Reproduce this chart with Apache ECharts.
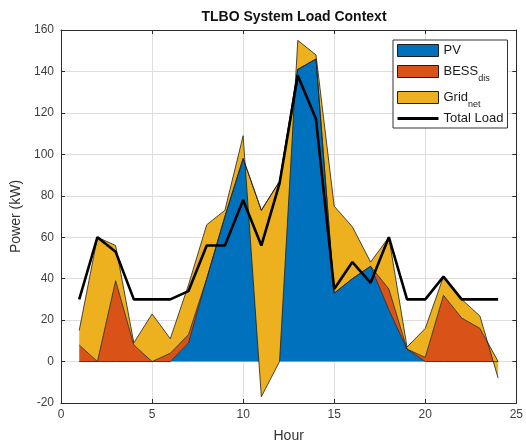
<!DOCTYPE html>
<html>
<head>
<meta charset="utf-8">
<title>TLBO System Load Context</title>
<script src="https://cdn.jsdelivr.net/npm/echarts@6/dist/echarts.min.js"></script>
<style>
  html, body { margin: 0; padding: 0; background: #fff; }
  #chart { width: 526px; height: 448px; }
</style>
</head>
<body>
<div id="chart"></div>
<script>
// Hourly power balance (kW), hours 1..24
const hours = [1, 2, 3, 4, 5, 6, 7, 8, 9, 10, 11, 12, 13, 14, 15, 16, 17, 18, 19, 20, 21, 22, 23, 24];
const pv        = [0, 0, 0, 0, 0, 0, 9, 40, 70, 98, 73, 87, 141, 146, 33, 40, 46, 25, 6, 0, 0, 0, 0, 0];
const bessDis   = [8, 0, 39, 8, 0, 4, 4, 0, 0, 0, 0, 0, 0, 0, 0, 0, 0, 10, 0, 2, 32, 21, 16, 0];
const gridNet   = [7, 60, 17, 1, 23, 7, 24, 26, 3, 11, -90, -87, 14, 2, 42, 25, 2, 25, 1, 14, 9, 9, 6, -8];
const totalLoad = [30, 60, 53, 30, 30, 30, 34, 56, 56, 78, 56, 86, 138, 117, 35, 48, 38, 60, 30, 30, 41, 30, 30, 30];

// Hour axis runs 0..25 with a label every 5 hours
const xMin = 0, xMax = 25, xStep = 5;
const yTicks = { min: -20, max: 160, step: 20 };

const colors = { pv: '#0072BD', bess: '#D95319', grid: '#EDB120', load: '#000000' };

// category slots 0..25; hours without data stay empty
const hourSlots = [];
for (let h = xMin; h <= xMax; h++) hourSlots.push(String(h));
const onSlots = vals => hourSlots.map(s => {
  const i = hours.indexOf(Number(s));
  return i < 0 ? null : vals[i];
});

const chart = echarts.init(document.getElementById('chart'), null, { renderer: 'canvas' });

const font = 'Liberation Sans, Arial, sans-serif';
const edge = { color: '#1e1e1e', width: 0.8 };
const axisColor = '#2b2b2b';
const labelStyle = { color: '#404040', fontSize: 12, fontFamily: font };

function areaSeries(name, vals, color) {
  return {
    name: name,
    type: 'line',
    stack: 'supply',
    stackStrategy: 'all',
    data: onSlots(vals),
    symbol: 'none',
    showSymbol: false,
    color: color,
    itemStyle: { color: color },
    lineStyle: edge,
    areaStyle: { color: color, opacity: 1 },
    z: 2
  };
}

const legendNames = {
  'PV': '{m|PV}',
  'BESS_dis': '{m|BESS}{s|dis}',
  'Grid_net': '{m|Grid}{s|net}',
  'Total Load': '{m|Total Load}'
};

const tickEvery = (xStep - 1);

chart.setOption({
  animation: false,
  backgroundColor: '#ffffff',
  title: {
    text: 'TLBO System Load Context',
    left: 289,
    top: 5,
    textAlign: 'center',
    textStyle: { fontSize: 14, fontWeight: 'bold', color: '#111', fontFamily: font }
  },
  legend: {
    orient: 'vertical',
    left: 393,
    top: 40,
    padding: [4, 4, 3, 4],
    itemGap: 3,
    itemWidth: 41,
    itemHeight: 12,
    backgroundColor: '#ffffff',
    borderColor: '#333333',
    borderWidth: 1,
    borderRadius: 0,
    selectedMode: false,
    data: [
      { name: 'PV', icon: 'rect', itemStyle: { borderColor: '#1e1e1e', borderWidth: 1 } },
      { name: 'BESS_dis', icon: 'rect', itemStyle: { borderColor: '#1e1e1e', borderWidth: 1 } },
      { name: 'Grid_net', icon: 'rect', itemStyle: { borderColor: '#1e1e1e', borderWidth: 1 } },
      { name: 'Total Load', icon: 'path://M0,0 H40 V3 H0 Z', itemStyle: { borderWidth: 0 } }
    ],
    formatter: name => legendNames[name],
    textStyle: {
      color: '#1a1a1a',
      fontFamily: font,
      rich: {
        m: { fontSize: 13, lineHeight: 14, color: '#1a1a1a', fontFamily: font },
        s: { fontSize: 9, lineHeight: 9, padding: [14, 0, 0, 0], color: '#1a1a1a', fontFamily: font }
      }
    }
  },
  grid: { left: 61, right: 9, top: 30, bottom: 45, containLabel: false },
  xAxis: [
    {
      type: 'category',
      data: hourSlots,
      boundaryGap: false,
      name: 'Hour',
      nameLocation: 'middle',
      nameGap: 26,
      nameTextStyle: { fontSize: 14, color: '#333', fontFamily: font },
      axisLine: { show: true, onZero: false, lineStyle: { color: axisColor, width: 1 } },
      axisTick: { show: true, inside: true, length: 4, interval: tickEvery, lineStyle: { color: axisColor } },
      axisLabel: Object.assign({ margin: 6, interval: tickEvery }, labelStyle),
      splitLine: { show: true, interval: tickEvery, lineStyle: { color: '#dedede', width: 1 } }
    },
    {
      type: 'category',
      data: hourSlots,
      boundaryGap: false,
      position: 'top',
      axisLine: { show: true, onZero: false, lineStyle: { color: axisColor, width: 1 } },
      axisTick: { show: true, inside: true, length: 4, interval: tickEvery, lineStyle: { color: axisColor } },
      axisLabel: { show: false },
      splitLine: { show: false }
    }
  ],
  yAxis: [
    {
      type: 'value',
      min: yTicks.min, max: yTicks.max, interval: yTicks.step,
      name: 'Power (kW)',
      nameLocation: 'middle',
      nameGap: 35,
      nameTextStyle: { fontSize: 14, color: '#333', fontFamily: font },
      axisLine: { show: true, onZero: false, lineStyle: { color: axisColor, width: 1 } },
      axisTick: { show: true, inside: true, length: 4, lineStyle: { color: axisColor } },
      axisLabel: Object.assign({ margin: 7 }, labelStyle),
      splitLine: { show: true, lineStyle: { color: '#dedede', width: 1 } }
    },
    {
      type: 'value', position: 'right',
      min: yTicks.min, max: yTicks.max, interval: yTicks.step,
      axisLine: { show: true, onZero: false, lineStyle: { color: axisColor, width: 1 } },
      axisTick: { show: true, inside: true, length: 4, lineStyle: { color: axisColor } },
      axisLabel: { show: false },
      splitLine: { show: false }
    }
  ],
  series: [
    areaSeries('PV', pv, colors.pv),
    areaSeries('BESS_dis', bessDis, colors.bess),
    areaSeries('Grid_net', gridNet, colors.grid),
    {
      name: 'Total Load',
      type: 'line',
      data: onSlots(totalLoad),
      symbol: 'none',
      showSymbol: false,
      color: colors.load,
      itemStyle: { color: colors.load },
      lineStyle: { color: colors.load, width: 2.6 },
      z: 5
    }
  ]
});
</script>
</body>
</html>
